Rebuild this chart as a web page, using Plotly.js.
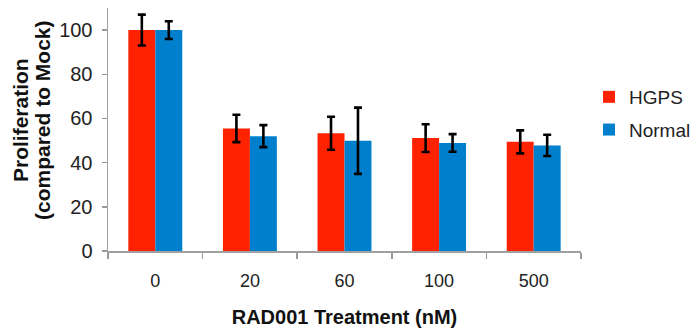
<!DOCTYPE html>
<html>
<head>
<meta charset="utf-8">
<script src="https://cdn.plot.ly/plotly-3.0.1.min.js"></script>
<style>html,body{margin:0;padding:0;background:#fff;}#chart{width:691px;height:333px;}</style>
</head>
<body>
<div id="chart"></div>
<script>
const categories = ['0', '20', '60', '100', '500'];
const hgpsValues = [100, 55.5, 53.3, 51.1, 49.4];
const hgpsErrors = [7, 6.2, 7.5, 6.3, 5.2];
const normalValues = [100, 52, 49.9, 48.9, 47.8];
const normalErrors = [4, 5, 15, 4, 4.8];
const seriesNames = ['HGPS', 'Normal'];
const yTickValues = [0, 20, 40, 60, 80, 100];
const yTitleLines = ['Proliferation', '(compared to Mock)'];

// plot area in pixels (used only to place text/legend)
const L = 108, R = 110, T = 8, B = 82, W = 691, H = 333;
const PW = W - L - R, PH = H - T - B;
const px2x = p => (p - L) / PW;
const px2y = p => (H - B - p) / PH;

const errStyle = {type: 'data', visible: true, color: '#000', thickness: 2.6, width: 4};
const traces = [
  {type: 'bar', name: seriesNames[0], x: categories, y: hgpsValues, legendgroup: 'a',
   marker: {color: 'rgb(255,34,0)'}, error_y: Object.assign({array: hgpsErrors}, errStyle)},
  {type: 'bar', name: seriesNames[1], x: categories, y: normalValues, legendgroup: 'b',
   marker: {color: 'rgb(0,128,204)'}, error_y: Object.assign({array: normalErrors}, errStyle)}
];
const titleFont = {family: 'Liberation Sans, Arial, sans-serif', size: 21, color: '#111'};
const layout = {
  width: W, height: H,
  margin: {l: L, r: R, t: T, b: B, pad: 0, autoexpand: false},
  paper_bgcolor: '#fff', plot_bgcolor: '#fff',
  barmode: 'group', bargap: 0.43, bargroupgap: 0,
  font: {family: 'Liberation Sans, Arial, sans-serif', color: '#222'},
  xaxis: {
    type: 'category', tickson: 'boundaries', ticks: 'outside', ticklen: 6, tickcolor: '#999', tickwidth: 1.5,
    showline: true, linecolor: '#a0a0a0', linewidth: 1.5, showgrid: false,
    tickfont: {size: 18, color: '#222'}, ticklabelstandoff: 13,
    title: {text: '<b>RAD001 Treatment (nM)</b>', font: {size: 20, color: '#111'}, standoff: 20}
  },
  yaxis: {
    range: [0, 110], tickvals: yTickValues, ticks: 'outside', ticklen: 5, tickcolor: '#999', tickwidth: 1.5,
    showline: true, linecolor: '#a0a0a0', linewidth: 1.5, showgrid: false, zeroline: false,
    tickfont: {size: 20, color: '#222'}, ticklabelstandoff: 5,
    title: {text: ''}
  },
  annotations: [
    {text: '<b>' + yTitleLines[0] + '</b>', xref: 'paper', yref: 'paper', x: px2x(20), y: px2y(120),
     xanchor: 'center', yanchor: 'middle', textangle: -90, showarrow: false, font: titleFont},
    {text: '<b>' + yTitleLines[1] + '</b>', xref: 'paper', yref: 'paper', x: px2x(42), y: px2y(120),
     xanchor: 'center', yanchor: 'middle', textangle: -90, showarrow: false, font: titleFont}
  ],
  legend: {xref: 'paper', traceorder: 'grouped', tracegroupgap: 5, font: {size: 19, color: '#222'},
           bgcolor: 'rgba(0,0,0,0)', x: px2x(589), y: px2y(78), yanchor: 'top'},
  showlegend: true
};
Plotly.newPlot('chart', traces, layout, {displayModeBar: false, staticPlot: true});
</script>
</body>
</html>
